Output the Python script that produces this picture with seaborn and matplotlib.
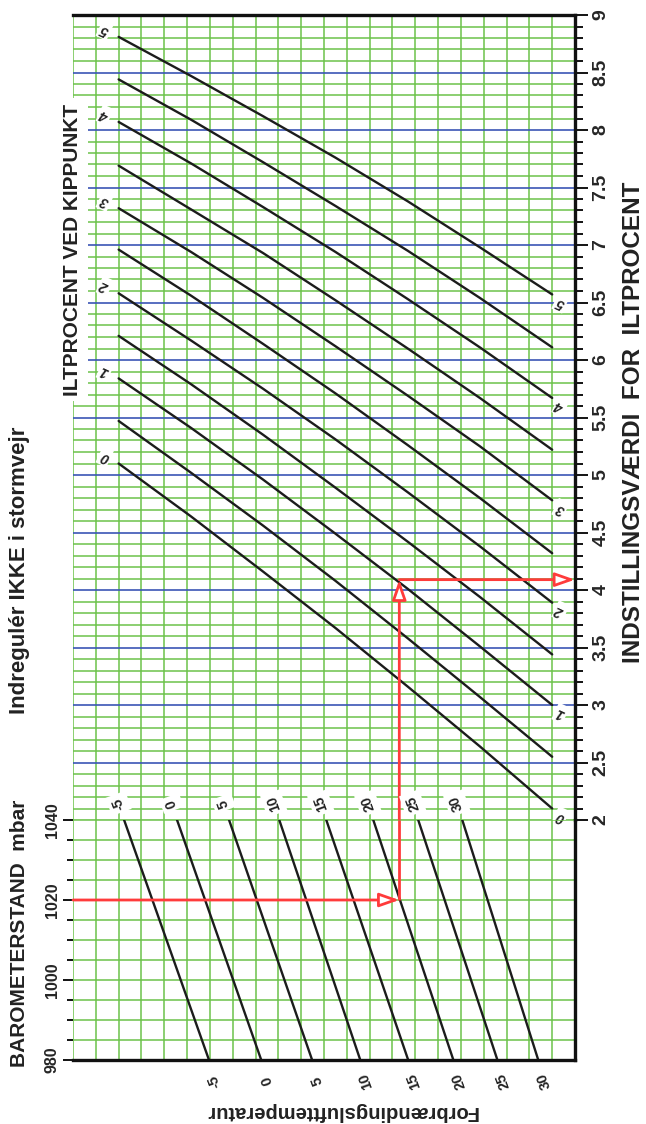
import numpy as np
import pandas as pd
import matplotlib
matplotlib.use("Agg")
import matplotlib.pyplot as plt
from matplotlib.ticker import MultipleLocator, FixedLocator, FixedFormatter
import seaborn as sns

# ---------------- data ----------------
# "Iltprocent ved kippunkt" curves, read at grid columns
curve_x = [2, 5.17, 8.33, 11.5, 14.67, 17.83, 21]
kip_5_0 = [8.81, 8.47, 8.12, 7.76, 7.38, 6.98, 6.57]
kip_4_5 = [8.44, 8.09, 7.72, 7.34, 6.95, 6.54, 6.11]
kip_4_0 = [8.07, 7.71, 7.33, 6.94, 6.53, 6.11, 5.67]
kip_3_5 = [7.69, 7.31, 6.93, 6.52, 6.10, 5.67, 5.22]
kip_3_0 = [7.32, 6.94, 6.54, 6.12, 5.69, 5.25, 4.78]
kip_2_5 = [6.96, 6.56, 6.14, 5.71, 5.26, 4.80, 4.32]
kip_2_0 = [6.58, 6.17, 5.75, 5.31, 4.85, 4.38, 3.89]
kip_1_5 = [6.21, 5.79, 5.35, 4.89, 4.42, 3.94, 3.44]
kip_1_0 = [5.84, 5.41, 4.96, 4.49, 4.01, 3.51, 3.00]
kip_0_5 = [5.47, 5.02, 4.56, 4.08, 3.58, 3.07, 2.55]
kip_0_0 = [5.10, 4.64, 4.16, 3.67, 3.16, 2.64, 2.10]
kip_levels = [5.0, 4.5, 4.0, 3.5, 3.0, 2.5, 2.0, 1.5, 1.0, 0.5, 0.0]
kip_labelled = [5.0, 4.0, 3.0, 2.0, 1.0, 0.0]

# Combustion air temperature lines (barometer part)
temps = [-5, 0, 5, 10, 15, 20, 25, 30]
temp_labels = ["-5", "0", "5", "10", "15", "20", "25", "30"]
temp_x_1040 = [2.24, 4.56, 6.84, 9.04, 11.10, 13.16, 15.13, 17.06]
temp_x_980 = [5.96, 8.25, 10.48, 12.59, 14.69, 16.67, 18.60, 20.39]

baro_major = [980, 1000, 1020, 1040]
baro_labels = ["980", "1000", "1020", "1040"]
setting_ticks = [2, 2.5, 3, 3.5, 4, 4.5, 5, 5.5, 6, 6.5, 7, 7.5, 8, 8.5, 9]
setting_labels = ["2", "2.5", "3", "3.5", "4", "4.5", "5", "5.5", "6",
                  "6.5", "7", "7.5", "8", "8.5", "9"]

# worked example (red path)
example_pressure = 1020
example_column = 14.3
example_result = 4.09

# ---------------- style ----------------
sns.set_theme(style="white")
plt.rcParams["font.family"] = ["Liberation Sans", "DejaVu Sans"]

GREEN = "#6cc24a"
BLUE = "#3b55b5"
RED = "#ff3b3b"
INK = "#1c1c1c"

W, H = 646, 1124
fig = plt.figure(figsize=(W / 100, H / 100), dpi=100, facecolor="white")
L, R = 73, 575
T, MID, B = 15, 820, 1060
ax_top = fig.add_axes([L / W, 1 - MID / H, (R - L) / W, (MID - T) / H])
ax_bot = fig.add_axes([L / W, 1 - B / H, (R - L) / W, (B - MID) / H])
for ax in (ax_top, ax_bot):
    ax.patch.set_visible(False)
    ax.set_axisbelow(True)
    ax.set_xlim(0, 22)
    ax.xaxis.set_major_locator(MultipleLocator(1))
    ax.tick_params(axis="x", which="both", length=0, labelbottom=False,
                   bottom=False, top=False)
    ax.grid(True, which="major", axis="x", color=GREEN, lw=1.1)

# ---- upper part: oxygen setting ----
ax_top.set_ylim(2, 9)
ax_top.yaxis.set_major_locator(FixedLocator(setting_ticks))
ax_top.yaxis.set_major_formatter(FixedFormatter(setting_labels))
ax_top.yaxis.set_minor_locator(MultipleLocator(0.1))
ax_top.grid(True, which="minor", axis="y", color=GREEN, lw=1.1)
ax_top.grid(True, which="major", axis="y", color=BLUE, lw=1.2)
ax_top.yaxis.tick_right()
ax_top.tick_params(axis="y", which="major", right=True, left=False,
                   direction="out", length=9.5, width=1.3, color="black",
                   pad=3, labelsize=14, labelrotation=90)
ax_top.tick_params(axis="y", which="minor", right=True, left=False,
                   direction="out", length=5.5, width=1.3, color="black")
for lbl in ax_top.get_yticklabels():
    lbl.set_va("center")
    lbl.set_fontweight("bold")
for gl, loc in zip(ax_top.get_ygridlines(), setting_ticks):
    if loc == 2:
        gl.set_color(GREEN)
for side in ("left", "bottom"):
    ax_top.spines[side].set_visible(False)
for side in ("top", "right"):
    ax_top.spines[side].set_visible(True)
    ax_top.spines[side].set_color("#111111")
    ax_top.spines[side].set_linewidth(2.4)

kip_series = dict(zip(kip_levels, [kip_5_0, kip_4_5, kip_4_0, kip_3_5, kip_3_0,
                                   kip_2_5, kip_2_0, kip_1_5, kip_1_0, kip_0_5,
                                   kip_0_0]))
kip_df = pd.concat([pd.DataFrame({"col": curve_x, "val": v, "level": k})
                    for k, v in kip_series.items()], ignore_index=True)
sns.lineplot(data=kip_df, x="col", y="val", units="level", estimator=None,
             sort=False, color=INK, lw=1.7, ax=ax_top, legend=False)
ax_top.set_xlabel("")
ax_top.set_ylabel("")

lab_kw = dict(fontsize=10, fontweight="bold", fontstyle="italic",
              rotation=155, ha="center", va="center", color="#222222",
              bbox=dict(fc="white", ec="none", pad=1.5), zorder=6,
              annotation_clip=False)
for lvl in kip_labelled:
    vals = kip_series[lvl]
    txt = f"{lvl:g}"
    ax_top.annotate(txt, xy=(curve_x[0], vals[0]), xytext=(-10, 5),
                    textcoords="offset points", **lab_kw)
    ax_top.annotate(txt, xy=(curve_x[-1], vals[-1]), xytext=(6, -6),
                    textcoords="offset points", **lab_kw)

ax_top.text(0, 6.96, "ILTPROCENT VED KIPPUNKT", rotation=90, ha="center",
            va="center", fontsize=15, fontweight="bold", color="#222222",
            bbox=dict(fc="white", ec="none", pad=4), zorder=7, clip_on=False)

# ---- lower part: barometer ----
ax_bot.set_ylim(980, 1040)
ax_bot.yaxis.set_major_locator(FixedLocator(baro_major))
ax_bot.yaxis.set_major_formatter(FixedFormatter(baro_labels))
ax_bot.yaxis.set_minor_locator(MultipleLocator(5))
ax_bot.grid(True, which="both", axis="y", color=GREEN, lw=1.1)
ax_bot.tick_params(axis="y", which="major", left=True, right=False,
                   direction="out", length=7.5, width=1.3, color="black",
                   pad=2, labelsize=11.5, labelrotation=90)
ax_bot.tick_params(axis="y", which="minor", left=True, right=False,
                   direction="out", length=4.5, width=1.3, color="black")
for lbl in ax_bot.get_yticklabels():
    lbl.set_va("center")
    lbl.set_fontweight("bold")
for side in ("left", "top"):
    ax_bot.spines[side].set_visible(False)
for side in ("bottom", "right"):
    ax_bot.spines[side].set_visible(True)
    ax_bot.spines[side].set_color("#111111")
    ax_bot.spines[side].set_linewidth(2.4)

temp_df = pd.concat([pd.DataFrame({"col": [a, b], "mbar": [1040, 980], "temp": t})
                     for t, a, b in zip(temps, temp_x_1040, temp_x_980)],
                    ignore_index=True)
sns.lineplot(data=temp_df, x="col", y="mbar", units="temp", estimator=None,
             sort=False, color=INK, lw=1.7, ax=ax_bot, legend=False)
ax_bot.set_xlabel("")
ax_bot.set_ylabel("")

for lab, xt, xb in zip(temp_labels, temp_x_1040, temp_x_980):
    ax_bot.annotate(lab, xy=(xt, 1040), xytext=(-4, 12),
                    textcoords="offset points", fontsize=10, fontweight="bold",
                    rotation=110, ha="center", va="center", color="#222222",
                    bbox=dict(fc="white", ec="none", pad=2.5), zorder=6,
                    annotation_clip=False)
    ax_bot.annotate(lab, xy=(xb, 980), xytext=(4, -15),
                    textcoords="offset points", fontsize=10.5, fontweight="bold",
                    rotation=110, ha="center", va="center", color="#222222",
                    annotation_clip=False)

# ---- red worked example ----
arrow = dict(arrowstyle="-|>,head_length=1.2,head_width=0.42", ec=RED,
             fc="white", lw=2.0, shrinkA=0, shrinkB=0, mutation_scale=10)
ax_bot.annotate("", xy=(example_column, example_pressure),
                xytext=(0, example_pressure), arrowprops=arrow, zorder=8,
                annotation_clip=False)
ax_bot.plot([example_column, example_column], [example_pressure, 1040],
            color=RED, lw=2.0, zorder=7, solid_capstyle="butt")
ax_top.annotate("", xy=(example_column, example_result),
                xytext=(example_column, 2), arrowprops=arrow, zorder=8,
                annotation_clip=False)
ax_top.annotate("", xy=(22, example_result),
                xytext=(example_column, example_result), arrowprops=arrow,
                zorder=8, annotation_clip=False)

# ---- outer titles ----
fig.text(20 / W, 1 - 570 / H, "Indregulér IKKE i stormvejr", rotation=90,
         ha="center", va="center", fontsize=16, fontweight="bold",
         color="#222222")
fig.text(20 / W, 1 - 933 / H, "BAROMETERSTAND  mbar", rotation=90,
         ha="center", va="center", fontsize=15, fontweight="bold",
         color="#222222")
fig.text(633 / W, 1 - 422 / H, "INDSTILLINGSVÆRDI  FOR  ILTPROCENT",
         rotation=90, ha="center", va="center", fontsize=17.5,
         fontweight="bold", color="#222222")
fig.text(341 / W, 1 - 1112 / H, "Forbrændingslufttemperatur", rotation=180,
         ha="center", va="center", fontsize=14.5, fontweight="bold",
         color="#222222")

fig.savefig("out.png", dpi=100, facecolor="white")
